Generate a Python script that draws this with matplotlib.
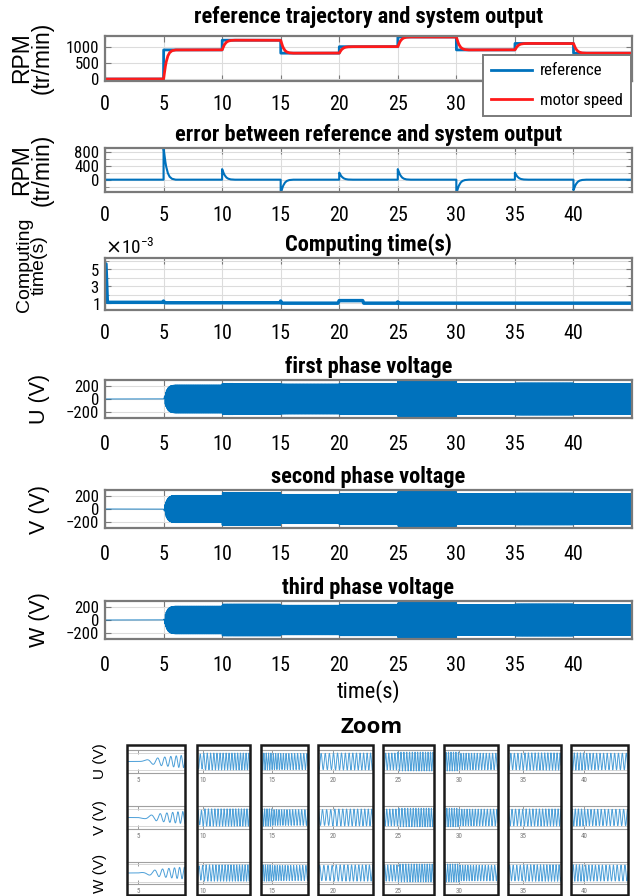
import numpy as np
import matplotlib
matplotlib.use('Agg')
import matplotlib.pyplot as plt
from matplotlib import font_manager
from matplotlib.patches import Rectangle
from matplotlib.ticker import FixedLocator, ScalarFormatter, NullFormatter

# speed reference, one level per 5 s segment
seg_start = [0, 5, 10, 15, 20, 25, 30, 35, 40]
ref_rpm = [0, 900, 1200, 800, 1000, 1300, 900, 1100, 800]
t_end = 45.0

# motor response after each step: time since step (s), fraction of the step reached
lag_dt = [0.0, 0.1, 0.2, 0.35, 0.5, 0.7, 1.0]
lag_frac = [0.0, 0.3, 0.55, 0.78, 0.9, 0.97, 1.0]

# phase voltage amplitude in each segment (V)
amp_u = [0, 210, 235, 225, 235, 262, 230, 240, 230]
amp_v = [0, 205, 242, 220, 235, 258, 232, 238, 228]
amp_w = [0, 208, 238, 222, 236, 260, 228, 240, 232]
pole_pairs = 2

# controller computing time (s)
comp_t = [0.0, 0.08, 0.2, 4.95, 5.0, 5.1, 14.95, 15.0, 15.1, 19.9, 20.0,
          22.0, 22.1, 24.95, 25.0, 25.1, 45.0]
comp_s = [5.6e-3, 5.6e-3, 1.1e-3, 1.1e-3, 1.25e-3, 1.05e-3, 1.05e-3, 1.25e-3,
          1.0e-3, 1.0e-3, 1.3e-3, 1.3e-3, 1.0e-3, 1.0e-3, 1.15e-3, 1.0e-3, 1.0e-3]

# zoom windows around each step
zoom_steps = [5, 10, 15, 20, 25, 30, 35, 40]
zoom_lead = [0.095, 0.055, 0.115, 0.135, 0.145, 0.14, 0.14, 0.115]
zoom_span = 0.5

# prefer a condensed face when one is installed
names = {f.name for f in font_manager.fontManager.ttflist}
narrow = 'Liberation Sans'
for cand in ['Liberation Sans Narrow', 'Roboto Condensed', 'Open Sans Condensed',
             'Noto Sans Condensed', 'DejaVu Sans Condensed']:
    if cand in names:
        narrow = cand
        break
k = 1.0 if narrow == 'Liberation Sans' else 1.15
plt.rcParams['font.family'] = [narrow, 'DejaVu Sans']
wide = ['Liberation Sans', 'DejaVu Sans']

blue = '#0072BD'
red = '#FF1A1A'
frame = '#7A7A7A'

# ---- signals ----
dt = 1 / 2000
t = np.arange(0, t_end, dt)
seg = np.searchsorted(seg_start, t, side='right') - 1
ref = np.array(ref_rpm, float)[seg]
motor = ref.copy()
for i in range(1, len(seg_start)):
    T = seg_start[i]
    m = (t >= T) & (t < T + lag_dt[-1])
    motor[m] = ref_rpm[i - 1] + (ref_rpm[i] - ref_rpm[i - 1]) * np.interp(t[m] - T, lag_dt, lag_frac)
err = ref - motor

f_e = motor / 60 * pole_pairs
phase = 2 * np.pi * np.cumsum(f_e) * dt
ramp = np.where(seg == 1, motor / ref_rpm[1], 1.0)
volts = []
for i, amp in enumerate([amp_u, amp_v, amp_w]):
    A = np.array(amp, float)[seg] * ramp
    volts.append(A * np.sin(phase - i * 2 * np.pi / 3))

# ---- layout ----
W, H = 636, 896
fig = plt.figure(figsize=(W / 100, H / 100), dpi=100)


def px_axes(l, t_, r, b):
    return fig.add_axes([l / W, 1 - b / H, (r - l) / W, (b - t_) / H])


def style(ax, title, tpad=5, xpad=10):
    ax.set_xlim(0, t_end)
    ax.set_xticks(range(0, 45, 5))
    ax.tick_params(direction='in', top=True, right=True, length=4, width=0.8,
                   color=frame, labelsize=12.5 * k, pad=xpad)
    ax.tick_params(axis='y', pad=4, labelsize=10.5 * k)
    ax.tick_params(which='minor', direction='in', right=True, length=3, color=frame)
    for s in ax.spines.values():
        s.set_color(frame)
        s.set_linewidth(1.6)
    ax.grid(True, which='both', color='#DCDCDC', lw=0.8)
    ax.set_axisbelow(True)
    ax.set_title(title, fontsize=14 * k, fontweight='bold', pad=tpad)


def side_label(y, text, size=16.5, x=32):
    fig.text(x / W, 1 - y / H, text, rotation=90, ha='center', va='center',
             fontsize=size, family=wide, linespacing=0.85)


L, R = 105, 632
ax1 = px_axes(L, 36, R, 81)
ax2 = px_axes(L, 148, R, 192)
ax3 = px_axes(L, 258, R, 310)
ax4 = px_axes(L, 380, R, 418)
ax5 = px_axes(L, 490, R, 528)
ax6 = px_axes(L, 601, R, 639)

# speed
ax1.plot(t, ref, color=blue, lw=2, label='reference')
ax1.plot(t, motor, color=red, lw=2, label='motor speed')
style(ax1, 'reference trajectory and system output', tpad=9)
ax1.set_ylim(-60, 1330)
ax1.set_yticks([0, 500, 1000])
# the legend sits over the last two time labels
ax1.set_xticklabels([str(v) if v < 35 else '' for v in range(0, 45, 5)])
side_label(58, 'RPM\n(tr/min)')
leg = ax1.legend(loc='upper left', bbox_to_anchor=(483 / W, 1 - 55 / H),
                 bbox_transform=fig.transFigure, fontsize=10.5 * k, fancybox=False,
                 edgecolor=frame, framealpha=1, handlelength=2.4,
                 labelspacing=0.85, borderpad=0.5, handletextpad=0.5,
                 borderaxespad=0)
leg.get_frame().set_linewidth(1.4)

# error
ax2.plot(t, err, color=blue, lw=1.5)
style(ax2, 'error between reference and system output')
ax2.set_ylim(-350, 900)
ax2.yaxis.set_major_locator(FixedLocator([0, 400, 800]))
ax2.yaxis.set_minor_locator(FixedLocator([-200, 200, 600]))
side_label(170, 'RPM\n(tr/min)')

# computing time
ax3.plot(comp_t, comp_s, color=blue, lw=2.5)
style(ax3, 'Computing time(s)')
ax3.set_ylim(0.2e-3, 6.3e-3)
fmt = ScalarFormatter(useMathText=True)
fmt.set_powerlimits((-2, 2))
ax3.yaxis.set_major_formatter(fmt)
ax3.yaxis.set_major_locator(FixedLocator([1e-3, 3e-3, 5e-3]))
ax3.yaxis.set_minor_locator(FixedLocator([2e-3, 4e-3, 6e-3]))
ax3.yaxis.get_offset_text().set_fontsize(12 * k)
side_label(265, 'Computing\ntime(s)', size=14)

# phase voltages
for ax, v, title, lab, yc in zip([ax4, ax5, ax6], volts,
                                 ['first phase voltage', 'second phase voltage', 'third phase voltage'],
                                 ['U (V)', 'V (V)', 'W (V)'], [399, 509, 620]):
    ax.plot(t, v, color=blue, lw=0.6)
    style(ax, title, xpad=12.5)
    ax.set_ylim(-285, 285)
    ax.set_yticks([-200, 0, 200])
    side_label(yc, lab, size=15.5, x=40)

ax6.set_xlabel('time(s)', fontsize=14 * k, labelpad=3)

fig.text(372 / W, 1 - 727 / H, 'Zoom', ha='center', va='center', fontsize=16,
         fontweight='bold', family=['Open Sans', 'DejaVu Sans'])

# zoomed views of the three phases
box_x = [(127, 185), (197, 250), (261, 308), (318, 373),
         (383, 434), (444, 498), (508, 561), (571, 628)]
row_y = [(750, 773), (806, 829), (862, 884)]
row_lab = ['U (V)', 'V (V)', 'W (V)']
for (x0, x1), T, lead in zip(box_x, zoom_steps, zoom_lead):
    fig.add_artist(Rectangle((x0 / W, 1 - 895 / H), (x1 - x0) / W, (895 - 745) / H,
                             transform=fig.transFigure, fill=False, lw=1.8,
                             ec='#1A1A1A', zorder=5))
    for (y0, y1), v in zip(row_y, volts):
        ax = px_axes(x0, y0, x1, y1)
        ax.patch.set_alpha(0)
        a = T - lead
        m = (t >= a - 0.01) & (t <= a + zoom_span + 0.01)
        ax.plot(t[m], v[m], color='#4C9FD8', lw=0.7)
        ax.set_xlim(a, a + zoom_span)
        ax.set_ylim(-320, 320)
        ax.set_xticks([T])
        ax.set_xticklabels([str(T)])
        ax.set_yticks([-250, 250])
        ax.yaxis.set_major_formatter(NullFormatter())
        ax.tick_params(direction='in', top=True, left=False, length=3, width=0.6,
                       color='#888888', labelsize=5, labelcolor='#777777', pad=3)
        ax.grid(True, axis='y', color='#D0D0D0', lw=0.6)
        ax.spines['left'].set_visible(False)
        ax.spines['right'].set_visible(False)
        for s in ('top', 'bottom'):
            ax.spines[s].set_color('#A0A0A0')
            ax.spines[s].set_linewidth(0.8)

for (y0, y1), lab in zip(row_y, row_lab):
    fig.text(100 / W, 1 - (y0 + y1) / 2 / H, lab, rotation=90, ha='center',
             va='center', fontsize=11, family=wide)

fig.savefig('out.png', dpi=100)
